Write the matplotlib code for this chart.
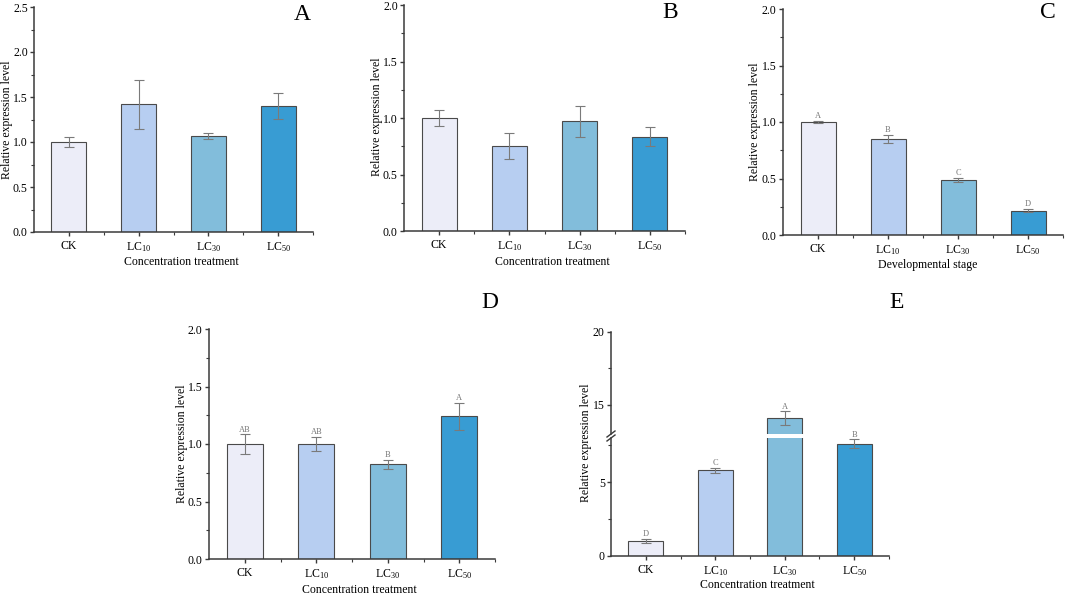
import matplotlib
matplotlib.use("Agg")
import matplotlib.pyplot as plt
from matplotlib.ticker import MultipleLocator, FixedLocator, FormatStrFormatter
import numpy as np

plt.rcParams['font.family'] = ['Liberation Serif', 'DejaVu Serif']
plt.rcParams['mathtext.fontset'] = 'custom'
plt.rcParams['mathtext.rm'] = 'Liberation Serif'
plt.rcParams['mathtext.it'] = 'Liberation Serif'
plt.rcParams['mathtext.default'] = 'regular'

# ---------------- data ----------------
categories = ['CK', 'LC$_{10}$', 'LC$_{30}$', 'LC$_{50}$']
bar_colors = ['#ECEDF8', '#B7CEF1', '#82BDDB', '#389CD3']

a_mean = [1.00, 1.42, 1.07, 1.40]
a_err = [0.06, 0.27, 0.035, 0.14]

b_mean = [1.00, 0.75, 0.97, 0.835]
b_err = [0.075, 0.115, 0.135, 0.083]

c_mean = [1.00, 0.85, 0.485, 0.215]
c_err = [0.012, 0.034, 0.02, 0.015]
c_sig = ['A', 'B', 'C', 'D']

d_mean = [1.00, 1.00, 0.825, 1.24]
d_err = [0.085, 0.06, 0.04, 0.12]
d_sig = ['AB', 'AB', 'B', 'A']

e_mean = [1.0, 5.8, 14.1, 7.6]
e_err = [0.15, 0.18, 0.45, 0.3]
e_sig = ['D', 'C', 'A', 'B']

W, H = 1065, 596
fig = plt.figure(figsize=(W / 100, H / 100), dpi=100)


def rect(l, r, t, b):
    return [l / W, 1 - b / H, (r - l) / W, (b - t) / H]


SPINE = '#3a3a3a'
ERRC = '#7a7a7a'
x = np.arange(1, len(categories) + 1)


def style(ax, major):
    for s in ['top', 'right']:
        ax.spines[s].set_visible(False)
    for s in ['left', 'bottom']:
        ax.spines[s].set_color(SPINE)
        ax.spines[s].set_linewidth(1.1)
    ax.set_xlim(0.5, 4.5)
    ax.yaxis.set_major_locator(MultipleLocator(major))
    ax.yaxis.set_minor_locator(MultipleLocator(major / 2))
    ax.set_xticks(x)
    ax.set_xticklabels(categories)
    ax.xaxis.set_minor_locator(FixedLocator([1.5, 2.5, 3.5, 4.5]))
    ax.tick_params(axis='both', which='major', direction='out', length=3,
                   width=1.0, color=SPINE, labelsize=8.5, pad=1.5)
    ax.tick_params(axis='both', which='minor', direction='out', length=2,
                   width=0.8, color=SPINE)
    ax.tick_params(axis='x', labelsize=8.5, pad=3)


def draw_bars(ax, mean, err, sig=None):
    ax.bar(x, mean, width=0.5, color=bar_colors, edgecolor='#4a4a4a',
           linewidth=0.8, zorder=2)
    ax.errorbar(x, mean, yerr=err, fmt='none', ecolor=ERRC, elinewidth=0.8,
                capsize=3.5, capthick=0.8, zorder=3)
    if sig is not None:
        for xi, m, e, s in zip(x, mean, err, sig):
            ax.annotate(s, (xi, m + e), xytext=(0, 0.5),
                        textcoords='offset points', ha='center', va='bottom',
                        fontsize=6, color='#777777')


fmt1 = FormatStrFormatter('%.1f')

# ---------- A ----------
axA = fig.add_axes(rect(34, 313, 7, 232))
draw_bars(axA, a_mean, a_err)
axA.set_ylim(0, 2.5)
style(axA, 0.5)
axA.yaxis.set_major_formatter(fmt1)

# ---------- B ----------
axB = fig.add_axes(rect(404, 685, 5, 231))
draw_bars(axB, b_mean, b_err)
axB.set_ylim(0, 2.0)
style(axB, 0.5)
axB.yaxis.set_major_formatter(fmt1)

# ---------- C ----------
axC = fig.add_axes(rect(783, 1063, 9, 235))
draw_bars(axC, c_mean, c_err, c_sig)
axC.set_ylim(0, 2.0)
style(axC, 0.5)
axC.yaxis.set_major_formatter(fmt1)

# ---------- D ----------
axD = fig.add_axes(rect(209, 495, 329, 559))
draw_bars(axD, d_mean, d_err, d_sig)
axD.set_ylim(0, 2.0)
style(axD, 0.5)
axD.yaxis.set_major_formatter(fmt1)

# ---------- E (broken axis) ----------
axE1 = fig.add_axes(rect(611, 889, 438, 556))
axE2 = fig.add_axes(rect(611, 889, 332, 434))
axE2.patch.set_visible(False)
lo_max, hi_min = 8.0, 13.0
for ax, lim in [(axE1, (0, lo_max)), (axE2, (hi_min, 20))]:
    ax.bar(x, e_mean, width=0.5, color=bar_colors, edgecolor='#4a4a4a',
           linewidth=0.8, zorder=2)
    ax.set_ylim(*lim)
    style(ax, 5)
for xi, m, e, s in zip(x, e_mean, e_err, e_sig):
    ax = axE2 if m > lo_max else axE1
    ax.errorbar([xi], [m], yerr=[e], fmt='none', ecolor=ERRC, elinewidth=0.8,
                capsize=3.5, capthick=0.8, zorder=3)
    ax.annotate(s, (xi, m + e), xytext=(0, 0.5), textcoords='offset points',
                ha='center', va='bottom', fontsize=6, color='#777777',
                annotation_clip=False)
axE2.spines['bottom'].set_visible(False)
axE2.tick_params(axis='x', which='both', bottom=False, labelbottom=False)
axE1.spines['top'].set_visible(False)
# break marks on left spine
bx = 611 / W
for yb in [438, 434]:
    yf = 1 - yb / H
    fig.add_artist(plt.Line2D([bx - 4 / W, bx + 4 / W], [yf - 3 / H, yf + 3 / H],
                              color=SPINE, lw=1.0, transform=fig.transFigure))

# ---------- labels ----------
ylab = 'Relative expression level'
lab_fs = 8.5
for ax, xp, yp in [(axA, 7.5, 120), (axB, 377, 117), (axC, 755, 122),
                   (axD, 182, 444)]:
    ax.set_ylabel(ylab, fontsize=lab_fs)
    ax.yaxis.set_label_coords(xp / W, 1 - yp / H, transform=fig.transFigure)
    ax.yaxis.label.set_va('center')
fig.text(586 / W, 1 - 443 / H, ylab, rotation=90, ha='center', va='center',
         fontsize=lab_fs)

for ax, label, xp, yp in [(axA, 'Concentration treatment', 181, 262),
                          (axB, 'Concentration treatment', 552, 262),
                          (axC, 'Developmental stage', 928, 265),
                          (axD, 'Concentration treatment', 359, 590),
                          (axE1, 'Concentration treatment', 757, 585)]:
    ax.set_xlabel(label, fontsize=lab_fs)
    ax.xaxis.set_label_coords(xp / W, 1 - yp / H, transform=fig.transFigure)
    ax.xaxis.label.set_va('center')

for letter, xp, yp in [('A', 302, 15), ('B', 670, 13), ('C', 1048, 13),
                       ('D', 490, 302), ('E', 897, 302)]:
    fig.text(xp / W, 1 - yp / H, letter, ha='center', va='center', fontsize=17)

fig.savefig('out.png', dpi=100)
